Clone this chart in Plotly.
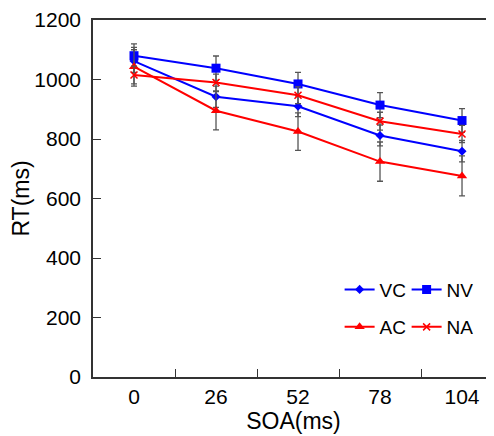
import plotly.graph_objects as go

soa = ["0", "26", "52", "78", "104"]

vc = [1062, 942, 910, 812, 759]
nv = [1080, 1038, 985, 914, 862]
ac = [1043, 895, 825, 724, 676]
na = [1015, 990, 947, 860, 817]

vc_err = [38, 36, 35, 35, 36]
nv_err = [40, 41, 39, 42, 40]
ac_err = [65, 64, 63, 66, 67]
na_err = [30, 28, 28, 30, 29]

BLUE = "#0000ff"
RED = "#ff0000"
ERR = "#555555"
FONT = "Liberation Sans, Arial, sans-serif"

series = [
    ("VC", vc, vc_err, BLUE, dict(symbol="diamond", size=7), "legend"),
    ("NV", nv, nv_err, BLUE, dict(symbol="square", size=9), "legend"),
    ("AC", ac, ac_err, RED, dict(symbol="triangle-up", size=9), "legend2"),
    ("NA", na, na_err, RED, dict(symbol="x-thin", size=7, line=dict(width=1.5, color=RED)), "legend2"),
]

fig = go.Figure()
for name, vals, err, color, marker, leg in series:
    fig.add_trace(go.Scatter(
        x=soa, y=vals, name=name, mode="lines+markers",
        line=dict(color=color, width=2),
        marker=dict(color=color, **marker),
        error_y=dict(type="data", array=err, color=ERR, thickness=1.3, width=3),
        legend=leg,
    ))

leg_style = dict(
    orientation="h", xanchor="left", yanchor="middle",
    font=dict(size=19, family=FONT, color="black"),
    bgcolor="rgba(0,0,0,0)", entrywidth=22, tracegroupgap=0,
)

# page body keeps the browser's 8px margin, so the figure is shifted by 8px
fig.update_layout(
    width=486, height=428,
    margin=dict(l=85, r=0, t=12, b=59, autoexpand=False),
    paper_bgcolor="white", plot_bgcolor="white",
    font=dict(family=FONT, size=20, color="black"),
    legend=dict(x=0.615, y=0.245, **leg_style),
    legend2=dict(x=0.615, y=0.14, **leg_style),
    xaxis=dict(
        type="category", range=[-0.5, 4.39],
        tickson="boundaries", ticks="inside", ticklen=8, tickcolor="#333",
        showline=True, linecolor="#333", linewidth=1.5, mirror=True,
        showgrid=False, tickfont=dict(size=21), automargin=False,
        title=dict(text="SOA(ms)", font=dict(size=23), standoff=0),
    ),
    yaxis=dict(
        range=[0, 1200], dtick=200, ticks="inside", ticklen=8, tickcolor="#333",
        showline=True, linecolor="#333", linewidth=1.5,
        showgrid=False, zeroline=False, tickfont=dict(size=21),
        ticklabelstandoff=6, automargin=False,
        title=dict(text="RT(ms)", font=dict(size=23), standoff=6),
    ),
)

fig.write_html("out.html")
